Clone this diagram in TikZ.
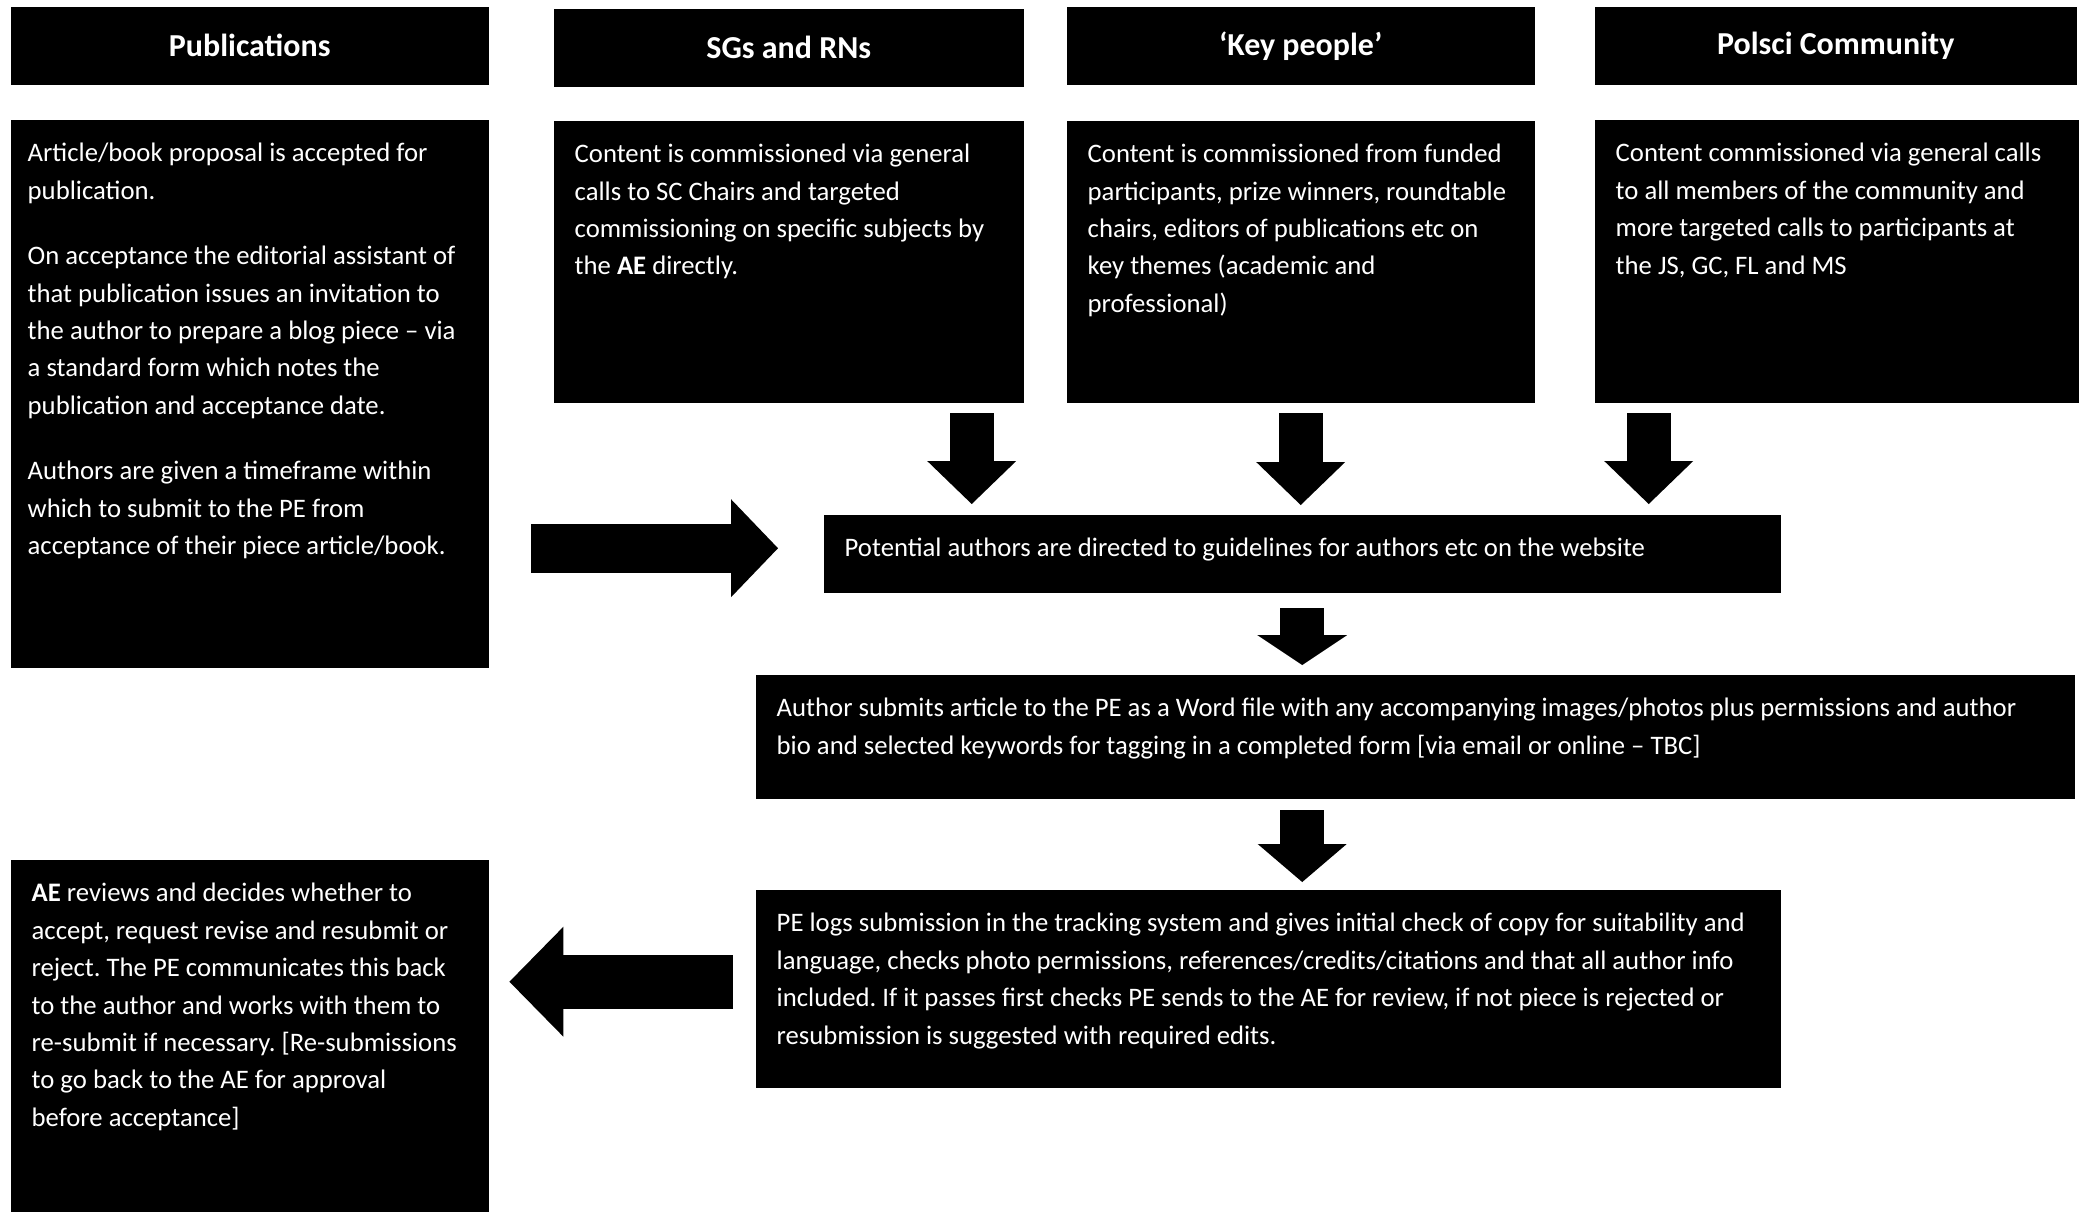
\documentclass[tikz,border=0pt]{standalone}
\usepackage{fontspec}
\setmainfont{Carlito}
\usetikzlibrary{arrows.meta}
\frenchspacing
\newcommand{\cbox}[3]{\parbox[t][#2][t]{#1}{\raggedright\setlength{\parskip}{8pt}\rule{0pt}{6pt}#3}}

\begin{document}
\begin{tikzpicture}
  % styles
  \tikzstyle{head} = [fill=black,text=white,anchor=north west,inner sep=0pt,minimum height=0.78cm,font=\fontsize{9.1pt}{11pt}\selectfont\bfseries];
  \tikzstyle{cell} = [fill=black,text=white,anchor=north west,inner xsep=0.21cm,inner ysep=0.21cm,font=\fontsize{7.6pt}{10.64pt}\selectfont];
  \tikzstyle{fat} = [line width=0.44cm,-{Triangle[length=0.43cm,width=0.89cm,line width=0pt]}];

  \useasboundingbox (0,0) rectangle (20.82,-12.11);

  % headers
  \node[head,minimum width=4.78cm] (pubhead) at (0.10,-0.06) {Publications};
  \node[head,minimum width=4.70cm] (sgshead) at (5.53,-0.08) {SGs and RNs};
  \node[head,minimum width=4.68cm] (keyhead) at (10.66,-0.06) {`Key people'};
  \node[head,minimum width=4.82cm] (polhead) at (15.94,-0.06) {Polsci Community};

  % nodes
  \node[cell,inner xsep=0.17cm] (pub) at (0.10,-1.19) {\cbox{4.44cm}{5.06cm}{Article/book proposal is accepted for\\ publication.\par
    On acceptance the editorial assistant of\\ that publication issues an invitation to\\ the author to prepare a blog piece -- via\\ a standard form which notes the\\ publication and acceptance date.\par
    Authors are given a timeframe within\\ which to submit to the PE from\\ acceptance of their piece article/book.}};
  \node[cell] (sgs) at (5.53,-1.20) {\cbox{4.28cm}{2.40cm}{Content is commissioned via general\\ calls to SC Chairs and targeted\\ commissioning on specific subjects by\\ the \textbf{AE} directly.}};
  \node[cell] (key) at (10.66,-1.20) {\cbox{4.26cm}{2.40cm}{Content is commissioned from funded\\ participants, prize winners, roundtable\\ chairs, editors of publications etc on\\ key themes (academic and\\ professional)}};
  \node[cell] (pol) at (15.94,-1.19) {\cbox{4.42cm}{2.41cm}{Content commissioned via general calls\\ to all members of the community and\\ more targeted calls to participants at\\ the JS, GC, FL and MS}};
  \node[cell] (pot) at (8.23,-5.14) {\cbox{9.15cm}{0.36cm}{Potential authors are directed to guidelines for authors etc on the website}};
  \node[cell] (auth) at (7.55,-6.74) {\cbox{12.77cm}{0.82cm}{Author submits article to the PE as a Word file with any accompanying images/photos plus permissions and author\\ bio and selected keywords for tagging in a completed form [via email or online -- TBC]}};
  \node[cell] (pe) at (7.55,-8.89) {\cbox{9.83cm}{1.56cm}{PE logs submission in the tracking system and gives initial check of copy for suitability and\\ language, checks photo permissions, references/credits/citations and that all author info\\ included. If it passes first checks PE sends to the AE for review, if not piece is rejected or\\ resubmission is suggested with required edits.}};
  \node[cell] (ae) at (0.10,-8.59) {\cbox{4.36cm}{3.10cm}{\textbf{AE} reviews and decides whether to\\ accept, request revise and resubmit or\\ reject. The PE communicates this back\\ to the author and works with them to\\ re-submit if necessary. [Re-submissions\\ to go back to the AE for approval\\ before acceptance]}};

  \coordinate (sgsout) at ([xshift=1.83cm]sgs.south);
  \coordinate (polout) at ([xshift=-1.88cm]pol.south);
  \coordinate (potin) at ([yshift=0.055cm]pot.west);
  \coordinate (peout) at ([yshift=0.07cm]pe.west);

  % edges
  \draw[fat,shorten <=0.10cm,shorten >=0.10cm] (sgsout) -- (sgsout |- pot.north);
  \draw[fat,shorten <=0.10cm,shorten >=0.09cm] (key.south) -- (key.south |- pot.north);
  \draw[fat,shorten <=0.10cm,shorten >=0.10cm] (polout) -- (polout |- pot.north);
  \draw[fat,-{Triangle[length=0.30cm,width=0.90cm,line width=0pt]},shorten <=0.15cm,shorten >=0.09cm] (pot.south) -- (pot.south |- auth.north);
  \draw[fat,-{Triangle[length=0.38cm,width=0.89cm,line width=0pt]},shorten <=0.11cm,shorten >=0.07cm] (auth.south -| pot.south) -- (pe.north -| pot.south);
  \draw[fat,line width=0.49cm,-{Triangle[length=0.47cm,width=0.98cm,line width=0pt]},shorten <=0.42cm,shorten >=0.45cm] (potin -| pub.east) -- (potin);
  \draw[fat,line width=0.54cm,-{Triangle[length=0.54cm,width=1.10cm,line width=0pt]},shorten <=0.22cm,shorten >=0.20cm] (peout) -- (peout -| ae.east);
\end{tikzpicture}
\end{document}
